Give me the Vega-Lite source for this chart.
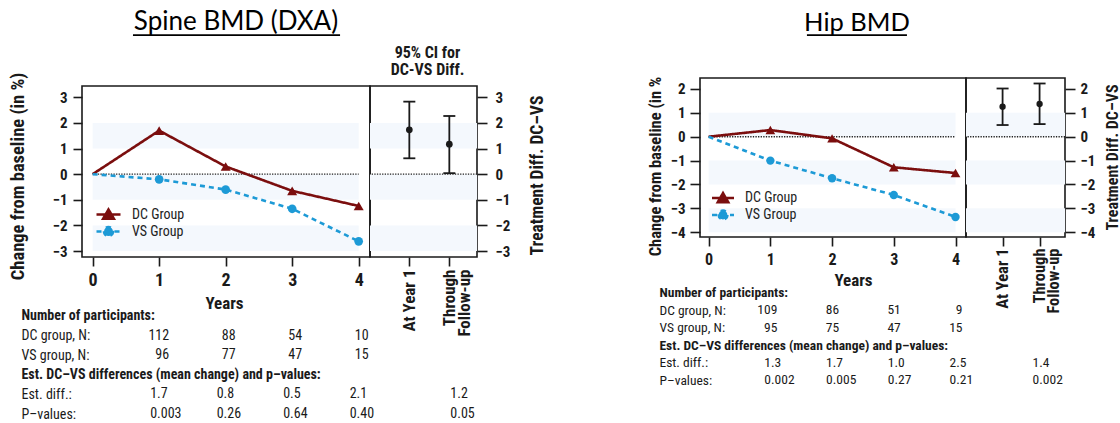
{
  "$schema": "https://vega.github.io/schema/vega-lite/v6.json",
  "background": "white",
  "padding": {"left": 7, "top": 0, "right": 0, "bottom": 0},
  "config": {
    "view": {"stroke": "#1a1a1a", "strokeWidth": 1.6},
    "font": "Roboto Condensed, Liberation Sans, Arial, sans-serif",
    "axis": {"grid": false, "domain": false, "tickColor": "#1a1a1a", "tickWidth": 1.6, "labelColor": "#1a1a1a", "titleColor": "#1a1a1a", "labelOverlap": false, "labelFlush": false, "labelFont": "Roboto Condensed, Liberation Sans, Arial, sans-serif", "titleFont": "Roboto Condensed, Liberation Sans, Arial, sans-serif"},
    "legend": {"labelFont": "Roboto Condensed, Liberation Sans, Arial, sans-serif"},
    "text": {"font": "Roboto Condensed, Liberation Sans, Arial, sans-serif", "color": "#1a1a1a"}
  },
  "datasets": {
    "spine": [
      {"group": "DC Group", "year": 0, "change": 0},
      {"group": "DC Group", "year": 1, "change": 1.7},
      {"group": "DC Group", "year": 2, "change": 0.3},
      {"group": "DC Group", "year": 3, "change": -0.65},
      {"group": "DC Group", "year": 4, "change": -1.24},
      {"group": "VS Group", "year": 0, "change": 0},
      {"group": "VS Group", "year": 1, "change": -0.2},
      {"group": "VS Group", "year": 2, "change": -0.6},
      {"group": "VS Group", "year": 3, "change": -1.35},
      {"group": "VS Group", "year": 4, "change": -2.62}
    ],
    "hip": [
      {"group": "DC Group", "year": 0, "change": 0},
      {"group": "DC Group", "year": 1, "change": 0.28},
      {"group": "DC Group", "year": 2, "change": -0.07},
      {"group": "DC Group", "year": 3, "change": -1.28},
      {"group": "DC Group", "year": 4, "change": -1.52},
      {"group": "VS Group", "year": 0, "change": 0},
      {"group": "VS Group", "year": 1, "change": -1.0},
      {"group": "VS Group", "year": 2, "change": -1.74},
      {"group": "VS Group", "year": 3, "change": -2.44},
      {"group": "VS Group", "year": 4, "change": -3.36}
    ],
    "spineCI": [
      {"period": "At Year 1", "est": 1.73, "lo": 0.62, "hi": 2.83},
      {"period": "Through Follow-up", "est": 1.17, "lo": 0.04, "hi": 2.27}
    ],
    "hipCI": [
      {"period": "At Year 1", "est": 1.26, "lo": 0.49, "hi": 2.02},
      {"period": "Through Follow-up", "est": 1.37, "lo": 0.53, "hi": 2.23}
    ],
    "spineBands": [{"lo": 1, "hi": 2}, {"lo": -1, "hi": 0}, {"lo": -3, "hi": -2}],
    "hipBands": [{"lo": 0, "hi": 1}, {"lo": -2, "hi": -1}, {"lo": -4, "hi": -3}],
    "spineTable": [
      {"row": "DC group, N:", "year": 1, "value": "112"},
      {"row": "DC group, N:", "year": 2, "value": "88"},
      {"row": "DC group, N:", "year": 3, "value": "54"},
      {"row": "DC group, N:", "year": 4, "value": "10"},
      {"row": "VS group, N:", "year": 1, "value": "96"},
      {"row": "VS group, N:", "year": 2, "value": "77"},
      {"row": "VS group, N:", "year": 3, "value": "47"},
      {"row": "VS group, N:", "year": 4, "value": "15"},
      {"row": "Est. diff.:", "year": 1, "value": "1.7"},
      {"row": "Est. diff.:", "year": 2, "value": "0.8"},
      {"row": "Est. diff.:", "year": 3, "value": "0.5"},
      {"row": "Est. diff.:", "year": 4, "value": "2.1"},
      {"row": "P–values:", "year": 1, "value": "0.003"},
      {"row": "P–values:", "year": 2, "value": "0.26"},
      {"row": "P–values:", "year": 3, "value": "0.64"},
      {"row": "P–values:", "year": 4, "value": "0.40"}
    ],
    "spineOverall": [
      {"row": "Est. diff.:", "period": "Through Follow-up", "value": "1.2"},
      {"row": "P–values:", "period": "Through Follow-up", "value": "0.05"}
    ],
    "hipTable": [
      {"row": "DC group, N:", "year": 1, "value": "109"},
      {"row": "DC group, N:", "year": 2, "value": "86"},
      {"row": "DC group, N:", "year": 3, "value": "51"},
      {"row": "DC group, N:", "year": 4, "value": "9"},
      {"row": "VS group, N:", "year": 1, "value": "95"},
      {"row": "VS group, N:", "year": 2, "value": "75"},
      {"row": "VS group, N:", "year": 3, "value": "47"},
      {"row": "VS group, N:", "year": 4, "value": "15"},
      {"row": "Est. diff.:", "year": 1, "value": "1.3"},
      {"row": "Est. diff.:", "year": 2, "value": "1.7"},
      {"row": "Est. diff.:", "year": 3, "value": "1.0"},
      {"row": "Est. diff.:", "year": 4, "value": "2.5"},
      {"row": "P–values:", "year": 1, "value": "0.002"},
      {"row": "P–values:", "year": 2, "value": "0.005"},
      {"row": "P–values:", "year": 3, "value": "0.27"},
      {"row": "P–values:", "year": 4, "value": "0.21"}
    ],
    "hipOverall": [
      {"row": "Est. diff.:", "period": "Through Follow-up", "value": "1.4"},
      {"row": "P–values:", "period": "Through Follow-up", "value": "0.002"}
    ]
  },
  "hconcat": [
    {
      "concat": [
        {
          "width": 288, "height": 40, "view": {"stroke": null},
          "layer": [
            {"data": {"values": [{"title": "Spine BMD (DXA)"}]}, "mark": {"type": "text", "font": "Lato", "fontSize": 26, "color": "#000", "baseline": "alphabetic", "dx": 10, "dy": 10}, "encoding": {"text": {"field": "title", "type": "nominal"}}},
            {"data": {"values": [{}]}, "mark": {"type": "rule", "color": "#000", "strokeWidth": 1.8}, "encoding": {"x": {"datum": 0.177, "type": "quantitative", "scale": {"domain": [0, 1], "nice": false, "zero": false}, "axis": null}, "x2": {"datum": 0.896}, "y": {"datum": 0.12, "type": "quantitative", "scale": {"domain": [0, 1], "nice": false}, "axis": null}}}
          ]
        },
        {
          "width": 107, "height": 40, "view": {"stroke": null},
          "data": {"values": [{}]},
          "mark": {"type": "text", "text": ["95% CI for", "DC-VS Diff."], "fontSize": 16, "fontWeight": "bold", "lineHeight": 17, "dx": 4, "dy": 33}
        },
        {
          "width": 288, "height": 171,
          "layer": [
            {"data": {"name": "spineBands"}, "mark": {"type": "rect", "color": "#f4f8fd"}, "encoding": {"x": {"datum": 0, "type": "quantitative", "scale": {"domain": [-0.16, 4.17], "nice": false, "zero": false}}, "x2": {"datum": 4}, "y": {"field": "lo", "type": "quantitative", "scale": {"domain": [-3.23, 3.44], "nice": false, "zero": false}}, "y2": {"field": "hi"}}},
            {"data": {"values": [{}]}, "mark": {"type": "rule", "color": "#222", "strokeWidth": 1.3, "strokeDash": [1.3, 1.3]}, "encoding": {"x": {"datum": 0, "type": "quantitative", "scale": {"domain": [-0.16, 4.17], "nice": false, "zero": false}}, "x2": {"datum": 4}, "y": {"datum": 0, "type": "quantitative", "scale": {"domain": [-3.23, 3.44], "nice": false, "zero": false}}}},
            {"data": {"name": "spine"}, "mark": {"type": "line", "strokeWidth": 2.6},
             "encoding": {
               "x": {"field": "year", "type": "quantitative", "scale": {"domain": [-0.16, 4.17], "nice": false, "zero": false}, "axis": {"values": [0, 1, 2, 3, 4], "tickCount": 20, "format": "d", "labelOverlap": false, "labelFontSize": 18, "labelFontWeight": "bold", "tickSize": 9, "labelPadding": 5, "title": "Years", "titleFontSize": 17, "titleFontWeight": "bold", "titleX": 142, "titleY": 46, "titleBaseline": "middle"}},
               "y": {"field": "change", "type": "quantitative", "scale": {"domain": [-3.23, 3.44], "nice": false, "zero": false}, "axis": {"values": [-3, -2, -1, 0, 1, 2, 3], "tickCount": 20, "format": "d", "labelOverlap": false, "labelFontSize": 15, "labelFontWeight": "bold", "tickSize": 9, "labelPadding": 6, "title": "Change from baseline (in %)", "titleFontSize": 18.5, "titleFontWeight": "bold", "titleAngle": 270, "titleX": -65, "titleY": 90, "titleAlign": "center", "titleBaseline": "middle"}},
               "color": {"field": "group", "type": "nominal", "scale": {"domain": ["DC Group", "VS Group"], "range": ["#7b0e0e", "#1d9ad6"]},
                 "legend": {"orient": "none", "legendX": 19, "legendY": 121, "title": null, "padding": 0, "labelFontSize": 14, "labelColor": "#222", "symbolSize": 144, "symbolStrokeWidth": 2.5, "labelOffset": 16, "rowPadding": -4,
                   "encode": {"symbols": {"update": {
                     "shape": {"signal": "datum.value === 'DC Group' ? 'M-2,0H2M0,-0.85L0.9,0.7L-0.9,0.7Z' : 'M-2,0H2M0.75,0A0.75,0.75,0,1,1,-0.75,0A0.75,0.75,0,1,1,0.75,0'"},
                     "fill": {"signal": "datum.value === 'DC Group' ? '#7b0e0e' : '#1d9ad6'"},
                     "stroke": {"signal": "datum.value === 'DC Group' ? '#7b0e0e' : '#1d9ad6'"},
                     "strokeDash": {"signal": "datum.value === 'DC Group' ? [1, 0] : [4, 3]"},
                     "opacity": {"value": 1}, "fillOpacity": {"value": 1}}}}}},
               "strokeDash": {"field": "group", "type": "nominal", "scale": {"domain": ["DC Group", "VS Group"], "range": [[1, 0], [5, 4]]}, "legend": null}
             }},
            {"data": {"name": "spine"}, "transform": [{"filter": "datum.group === 'DC Group' && datum.year > 0"}], "mark": {"type": "point", "shape": "triangle-up", "filled": true, "size": 100, "color": "#7b0e0e", "opacity": 1},
             "encoding": {"x": {"field": "year", "type": "quantitative", "scale": {"domain": [-0.16, 4.17], "nice": false, "zero": false}}, "y": {"field": "change", "type": "quantitative", "scale": {"domain": [-3.23, 3.44], "nice": false, "zero": false}}}},
            {"data": {"name": "spine"}, "transform": [{"filter": "datum.group === 'VS Group' && datum.year > 0"}], "mark": {"type": "circle", "size": 75, "color": "#1d9ad6", "opacity": 1},
             "encoding": {"x": {"field": "year", "type": "quantitative", "scale": {"domain": [-0.16, 4.17], "nice": false, "zero": false}}, "y": {"field": "change", "type": "quantitative", "scale": {"domain": [-3.23, 3.44], "nice": false, "zero": false}}}}
          ]
        },
        {
          "width": 107, "height": 171,
          "layer": [
            {"data": {"name": "spineBands"}, "mark": {"type": "rect", "color": "#f4f8fd"}, "encoding": {"y": {"field": "lo", "type": "quantitative", "scale": {"domain": [-3.23, 3.44], "nice": false, "zero": false}}, "y2": {"field": "hi"}}},
            {"data": {"values": [{}]}, "mark": {"type": "rule", "color": "#222", "strokeWidth": 1.3, "strokeDash": [1.3, 1.3]}, "encoding": {"y": {"datum": 0, "type": "quantitative", "scale": {"domain": [-3.23, 3.44], "nice": false, "zero": false}}}},
            {"data": {"name": "spineCI"}, "mark": {"type": "rule", "color": "#1a1a1a", "strokeWidth": 1.8},
             "encoding": {
               "x": {"field": "period", "type": "nominal", "scale": {"type": "point", "domain": ["At Year 1", "Through Follow-up"], "padding": 0.8375, "align": 0.587},
                 "axis": {"labelAngle": -90, "labelAlign": "right", "labelBaseline": "middle", "labelFontSize": 17, "labelFontWeight": "bold", "labelLineHeight": 15, "tickSize": 9, "labelPadding": 3, "title": null, "labelExpr": "datum.value === 'Through Follow-up' ? ['Through', 'Follow-up'] : datum.value"}},
               "y": {"field": "lo", "type": "quantitative", "scale": {"domain": [-3.23, 3.44], "nice": false, "zero": false},
                 "axis": {"orient": "right", "values": [-3, -2, -1, 0, 1, 2, 3], "tickCount": 20, "format": "d", "labelOverlap": false, "labelFontSize": 15, "labelFontWeight": "bold", "tickSize": 10, "labelPadding": 8, "title": "Treatment Diff. DC–VS", "titleFontSize": 17.5, "titleFontWeight": "bold", "titleAngle": 270, "titleX": 60, "titleY": 89, "titleAlign": "center", "titleBaseline": "middle"}},
               "y2": {"field": "hi"}
             }},
            {"data": {"name": "spineCI"}, "mark": {"type": "tick", "orient": "horizontal", "size": 12, "thickness": 1.8, "color": "#1a1a1a", "opacity": 1},
             "encoding": {"x": {"field": "period", "type": "nominal", "scale": {"type": "point", "domain": ["At Year 1", "Through Follow-up"], "padding": 0.8375, "align": 0.587}}, "y": {"field": "lo", "type": "quantitative", "scale": {"domain": [-3.23, 3.44], "nice": false, "zero": false}}}},
            {"data": {"name": "spineCI"}, "mark": {"type": "tick", "orient": "horizontal", "size": 12, "thickness": 1.8, "color": "#1a1a1a", "opacity": 1},
             "encoding": {"x": {"field": "period", "type": "nominal", "scale": {"type": "point", "domain": ["At Year 1", "Through Follow-up"], "padding": 0.8375, "align": 0.587}}, "y": {"field": "hi", "type": "quantitative", "scale": {"domain": [-3.23, 3.44], "nice": false, "zero": false}}}},
            {"data": {"name": "spineCI"}, "mark": {"type": "circle", "size": 45, "color": "#1a1a1a", "opacity": 1},
             "encoding": {"x": {"field": "period", "type": "nominal", "scale": {"type": "point", "domain": ["At Year 1", "Through Follow-up"], "padding": 0.8375, "align": 0.587}}, "y": {"field": "est", "type": "quantitative", "scale": {"domain": [-3.23, 3.44], "nice": false, "zero": false}}}}
          ]
        },
        {
          "width": 288, "height": 124, "view": {"stroke": null},
          "data": {"name": "spineTable"},
          "encoding": {
            "x": {"field": "year", "type": "quantitative", "scale": {"domain": [-0.16, 4.17], "nice": false, "zero": false}, "axis": null},
            "y": {"field": "row", "type": "nominal", "scale": {"type": "point", "domain": ["Number of participants:", "DC group, N:", "VS group, N:", "Est. DC–VS differences (mean change) and p–values:", "Est. diff.:", "P–values:"], "padding": 0.66},
              "axis": {"title": null, "ticks": false, "domain": false, "labelAlign": "left", "labelPadding": 61, "labelFontSize": 14, "labelColor": "#1a1a1a", "labelLimit": 0, "labelOverlap": false,
                "labelFontWeight": {"condition": {"test": "datum.value === 'Number of participants:' || datum.value === 'Est. DC–VS differences (mean change) and p–values:'", "value": "bold"}, "value": "normal"}}},
            "text": {"field": "value", "type": "nominal"}
          },
          "layer": [
            {"transform": [{"filter": "datum.row === 'DC group, N:' || datum.row === 'VS group, N:'"}], "mark": {"type": "text", "align": "right", "dx": 10, "fontSize": 14}},
            {"transform": [{"filter": "datum.row !== 'DC group, N:' && datum.row !== 'VS group, N:'"}], "mark": {"type": "text", "align": "left", "dx": -9, "fontSize": 14}}
          ]
        },
        {
          "width": 107, "height": 124, "view": {"stroke": null},
          "data": {"name": "spineOverall"},
          "mark": {"type": "text", "align": "left", "dx": 1, "fontSize": 14},
          "encoding": {
            "x": {"field": "period", "type": "nominal", "scale": {"type": "point", "domain": ["At Year 1", "Through Follow-up"], "padding": 0.8375, "align": 0.587}, "axis": null},
            "y": {"field": "row", "type": "nominal", "scale": {"type": "point", "domain": ["Number of participants:", "DC group, N:", "VS group, N:", "Est. DC–VS differences (mean change) and p–values:", "Est. diff.:", "P–values:"], "padding": 0.66}, "axis": null},
            "text": {"field": "value", "type": "nominal"}
          }
        }
      ],
      "columns": 2,
      "spacing": {"row": 46, "column": 0},
      "bounds": "flush",
      "align": "each",
      "resolve": {"scale": {"color": "independent", "strokeDash": "independent"}, "legend": {"color": "independent", "strokeDash": "independent"}}
    },
    {
      "concat": [
        {
          "width": 266, "height": 40, "view": {"stroke": null},
          "layer": [
            {"data": {"values": [{"title": "Hip BMD"}]}, "mark": {"type": "text", "font": "Lato", "fontSize": 25.5, "color": "#000", "baseline": "alphabetic", "dx": 24, "dy": 11}, "encoding": {"text": {"field": "title", "type": "nominal"}}},
            {"data": {"values": [{}]}, "mark": {"type": "rule", "color": "#000", "strokeWidth": 1.8}, "encoding": {"x": {"datum": 0.402, "type": "quantitative", "scale": {"domain": [0, 1], "nice": false, "zero": false}, "axis": null}, "x2": {"datum": 0.778}, "y": {"datum": 0.12, "type": "quantitative", "scale": {"domain": [0, 1], "nice": false}, "axis": null}}}
          ]
        },
        {
          "width": 99, "height": 40, "view": {"stroke": null},
          "data": {"values": [{"t": ""}]},
          "mark": {"type": "text"},
          "encoding": {"text": {"field": "t", "type": "nominal"}}
        },
        {
          "width": 266, "height": 159,
          "layer": [
            {"data": {"name": "hipBands"}, "mark": {"type": "rect", "color": "#f4f8fd"}, "encoding": {"x": {"datum": 0, "type": "quantitative", "scale": {"domain": [-0.14, 4.17], "nice": false, "zero": false}}, "x2": {"datum": 4}, "y": {"field": "lo", "type": "quantitative", "scale": {"domain": [-4.2, 2.46], "nice": false, "zero": false}}, "y2": {"field": "hi"}}},
            {"data": {"values": [{}]}, "mark": {"type": "rule", "color": "#222", "strokeWidth": 1.3, "strokeDash": [1.3, 1.3]}, "encoding": {"x": {"datum": 0, "type": "quantitative", "scale": {"domain": [-0.14, 4.17], "nice": false, "zero": false}}, "x2": {"datum": 4}, "y": {"datum": 0, "type": "quantitative", "scale": {"domain": [-4.2, 2.46], "nice": false, "zero": false}}}},
            {"data": {"name": "hip"}, "mark": {"type": "line", "strokeWidth": 2.6},
             "encoding": {
               "x": {"field": "year", "type": "quantitative", "scale": {"domain": [-0.14, 4.17], "nice": false, "zero": false}, "axis": {"values": [0, 1, 2, 3, 4], "tickCount": 20, "format": "d", "labelOverlap": false, "labelFontSize": 16, "labelFontWeight": "bold", "tickSize": 9, "labelPadding": 5, "title": "Years", "titleFontSize": 17, "titleFontWeight": "bold", "titleX": 153, "titleY": 43, "titleBaseline": "middle"}},
               "y": {"field": "change", "type": "quantitative", "scale": {"domain": [-4.2, 2.46], "nice": false, "zero": false}, "axis": {"values": [-4, -3, -2, -1, 0, 1, 2], "tickCount": 20, "format": "d", "labelOverlap": false, "labelFontSize": 15, "labelFontWeight": "bold", "tickSize": 10, "labelPadding": 5, "title": "Change from baseline (in %", "titleFontSize": 16.5, "titleFontWeight": "bold", "titleAngle": 270, "titleX": -45, "titleY": 88, "titleAlign": "center", "titleBaseline": "middle"}},
               "color": {"field": "group", "type": "nominal", "scale": {"domain": ["DC Group", "VS Group"], "range": ["#7b0e0e", "#1d9ad6"]},
                 "legend": {"orient": "none", "legendX": 16, "legendY": 113, "title": null, "padding": 0, "labelFontSize": 14, "labelColor": "#222", "symbolSize": 121, "symbolStrokeWidth": 2.5, "labelOffset": 15, "rowPadding": -6,
                   "encode": {"symbols": {"update": {
                     "shape": {"signal": "datum.value === 'DC Group' ? 'M-2,0H2M0,-0.9L0.95,0.75L-0.95,0.75Z' : 'M-2,0H2M0.8,0A0.8,0.8,0,1,1,-0.8,0A0.8,0.8,0,1,1,0.8,0'"},
                     "fill": {"signal": "datum.value === 'DC Group' ? '#7b0e0e' : '#1d9ad6'"},
                     "stroke": {"signal": "datum.value === 'DC Group' ? '#7b0e0e' : '#1d9ad6'"},
                     "strokeDash": {"signal": "datum.value === 'DC Group' ? [1, 0] : [4, 3]"},
                     "opacity": {"value": 1}, "fillOpacity": {"value": 1}}}}}},
               "strokeDash": {"field": "group", "type": "nominal", "scale": {"domain": ["DC Group", "VS Group"], "range": [[1, 0], [5, 4]]}, "legend": null}
             }},
            {"data": {"name": "hip"}, "transform": [{"filter": "datum.group === 'DC Group' && datum.year > 0"}], "mark": {"type": "point", "shape": "triangle-up", "filled": true, "size": 95, "color": "#7b0e0e", "opacity": 1},
             "encoding": {"x": {"field": "year", "type": "quantitative", "scale": {"domain": [-0.14, 4.17], "nice": false, "zero": false}}, "y": {"field": "change", "type": "quantitative", "scale": {"domain": [-4.2, 2.46], "nice": false, "zero": false}}}},
            {"data": {"name": "hip"}, "transform": [{"filter": "datum.group === 'VS Group' && datum.year > 0"}], "mark": {"type": "circle", "size": 70, "color": "#1d9ad6", "opacity": 1},
             "encoding": {"x": {"field": "year", "type": "quantitative", "scale": {"domain": [-0.14, 4.17], "nice": false, "zero": false}}, "y": {"field": "change", "type": "quantitative", "scale": {"domain": [-4.2, 2.46], "nice": false, "zero": false}}}}
          ]
        },
        {
          "width": 99, "height": 159,
          "layer": [
            {"data": {"name": "hipBands"}, "mark": {"type": "rect", "color": "#f4f8fd"}, "encoding": {"y": {"field": "lo", "type": "quantitative", "scale": {"domain": [-4.2, 2.46], "nice": false, "zero": false}}, "y2": {"field": "hi"}}},
            {"data": {"values": [{}]}, "mark": {"type": "rule", "color": "#222", "strokeWidth": 1.3, "strokeDash": [1.3, 1.3]}, "encoding": {"y": {"datum": 0, "type": "quantitative", "scale": {"domain": [-4.2, 2.46], "nice": false, "zero": false}}}},
            {"data": {"name": "hipCI"}, "mark": {"type": "rule", "color": "#1a1a1a", "strokeWidth": 1.8},
             "encoding": {
               "x": {"field": "period", "type": "nominal", "scale": {"type": "point", "domain": ["At Year 1", "Through Follow-up"], "padding": 0.838, "align": 0.59},
                 "axis": {"labelAngle": -90, "labelAlign": "right", "labelBaseline": "middle", "labelFontSize": 16.5, "labelFontWeight": "bold", "labelLineHeight": 14, "tickSize": 9, "labelPadding": 2, "title": null, "labelExpr": "datum.value === 'Through Follow-up' ? ['Through', 'Follow-up'] : datum.value"}},
               "y": {"field": "lo", "type": "quantitative", "scale": {"domain": [-4.2, 2.46], "nice": false, "zero": false},
                 "axis": {"orient": "right", "values": [-4, -3, -2, -1, 0, 1, 2], "tickCount": 20, "format": "d", "labelOverlap": false, "labelFontSize": 15, "labelFontWeight": "bold", "tickSize": 10, "labelPadding": 5, "title": "Treatment Diff. DC–VS", "titleFontSize": 16, "titleFontWeight": "bold", "titleAngle": 270, "titleX": 47, "titleY": 79, "titleAlign": "center", "titleBaseline": "middle"}},
               "y2": {"field": "hi"}
             }},
            {"data": {"name": "hipCI"}, "mark": {"type": "tick", "orient": "horizontal", "size": 12, "thickness": 1.8, "color": "#1a1a1a", "opacity": 1},
             "encoding": {"x": {"field": "period", "type": "nominal", "scale": {"type": "point", "domain": ["At Year 1", "Through Follow-up"], "padding": 0.838, "align": 0.59}}, "y": {"field": "lo", "type": "quantitative", "scale": {"domain": [-4.2, 2.46], "nice": false, "zero": false}}}},
            {"data": {"name": "hipCI"}, "mark": {"type": "tick", "orient": "horizontal", "size": 12, "thickness": 1.8, "color": "#1a1a1a", "opacity": 1},
             "encoding": {"x": {"field": "period", "type": "nominal", "scale": {"type": "point", "domain": ["At Year 1", "Through Follow-up"], "padding": 0.838, "align": 0.59}}, "y": {"field": "hi", "type": "quantitative", "scale": {"domain": [-4.2, 2.46], "nice": false, "zero": false}}}},
            {"data": {"name": "hipCI"}, "mark": {"type": "circle", "size": 40, "color": "#1a1a1a", "opacity": 1},
             "encoding": {"x": {"field": "period", "type": "nominal", "scale": {"type": "point", "domain": ["At Year 1", "Through Follow-up"], "padding": 0.838, "align": 0.59}}, "y": {"field": "est", "type": "quantitative", "scale": {"domain": [-4.2, 2.46], "nice": false, "zero": false}}}}
          ]
        },
        {
          "width": 266, "height": 123, "view": {"stroke": null},
          "data": {"name": "hipTable"},
          "encoding": {
            "x": {"field": "year", "type": "quantitative", "scale": {"domain": [-0.14, 4.17], "nice": false, "zero": false}, "axis": null},
            "y": {"field": "row", "type": "nominal", "scale": {"type": "point", "domain": ["Number of participants:", "DC group, N:", "VS group, N:", "Est. DC–VS differences (mean change) and p–values:", "Est. diff.:", "P–values:"], "padding": 1.034},
              "axis": {"title": null, "ticks": false, "domain": false, "labelAlign": "left", "labelPadding": 41, "labelFontSize": 13.5, "labelColor": "#1a1a1a", "labelLimit": 0, "labelOverlap": false,
                "labelFontWeight": {"condition": {"test": "datum.value === 'Number of participants:' || datum.value === 'Est. DC–VS differences (mean change) and p–values:'", "value": "bold"}, "value": "normal"}}},
            "text": {"field": "value", "type": "nominal"}
          },
          "layer": [
            {"transform": [{"filter": "datum.row === 'DC group, N:' || datum.row === 'VS group, N:'"}], "mark": {"type": "text", "align": "right", "dx": 7, "fontSize": 13.5}},
            {"transform": [{"filter": "datum.row !== 'DC group, N:' && datum.row !== 'VS group, N:'"}], "mark": {"type": "text", "align": "left", "dx": -6, "fontSize": 13.5}}
          ]
        },
        {
          "width": 99, "height": 123, "view": {"stroke": null},
          "data": {"name": "hipOverall"},
          "mark": {"type": "text", "align": "left", "dx": -7, "fontSize": 13.5},
          "encoding": {
            "x": {"field": "period", "type": "nominal", "scale": {"type": "point", "domain": ["At Year 1", "Through Follow-up"], "padding": 0.838, "align": 0.59}, "axis": null},
            "y": {"field": "row", "type": "nominal", "scale": {"type": "point", "domain": ["Number of participants:", "DC group, N:", "VS group, N:", "Est. DC–VS differences (mean change) and p–values:", "Est. diff.:", "P–values:"], "padding": 1.034}, "axis": null},
            "text": {"field": "value", "type": "nominal"}
          }
        }
      ],
      "columns": 2,
      "spacing": {"row": 38, "column": 0},
      "bounds": "flush",
      "align": "each",
      "resolve": {"scale": {"color": "independent", "strokeDash": "independent"}, "legend": {"color": "independent", "strokeDash": "independent"}}
    }
  ],
  "spacing": 618,
  "bounds": "flush",
  "resolve": {"scale": {"color": "independent", "strokeDash": "independent"}, "legend": {"color": "independent", "strokeDash": "independent"}}
}
